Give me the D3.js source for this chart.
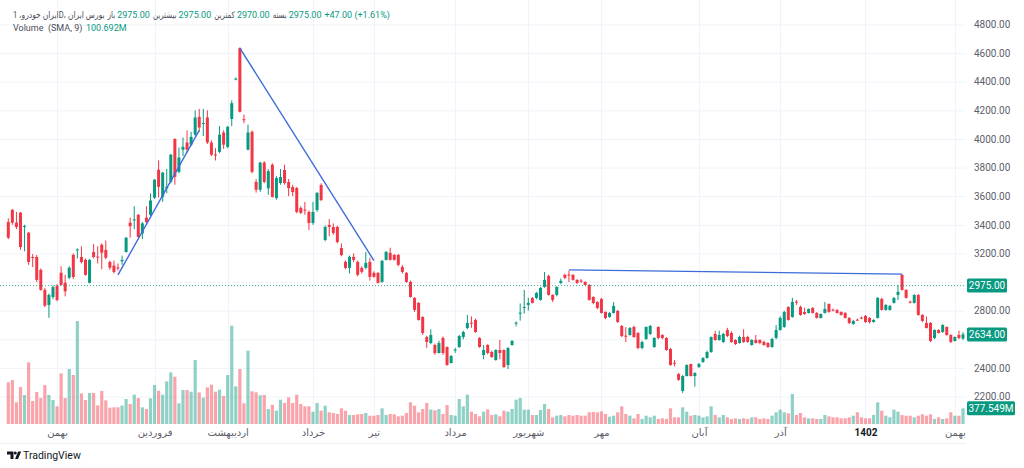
<!DOCTYPE html>
<html><head><meta charset="utf-8">
<script src="https://cdn.jsdelivr.net/npm/d3@7"></script>
<style>html,body{margin:0;padding:0;background:#fff;overflow:hidden}
svg{display:block;font-family:Roboto,"DejaVu Sans",sans-serif}</style>
</head><body><svg id="c" width="1024" height="468"></svg>
<script>
// [open, high, low, close]
const ohlc = [
[3420,3445,3300,3310],[3505,3510,3400,3415],[3415,3490,3370,3385],[3485,3490,3225,3245],[3385,3400,3215,3392],
[3345,3350,3120,3140],[3175,3195,3105,3170],[3175,3190,3000,3015],[3085,3095,2940,2945],[2945,2960,2825,2835],
[2840,2920,2750,2910],[2895,2975,2880,2965],[2975,2985,2865,2875],[3065,3110,2975,2980],[2995,3050,2900,2935],
[3030,3110,3020,3100],[3190,3200,3020,3035],[3222,3235,3165,3228],[3175,3250,3130,3140],[3155,3165,3045,3050],
[2995,3160,2990,3155],[3210,3265,3165,3175],[3178,3250,3130,3172],[3260,3270,3090,3205],[3225,3290,3160,3170],
[3140,3150,3085,3100],[3115,3150,3060,3070],[3102,3130,3080,3098],[3145,3185,3120,3155],[3210,3315,3205,3310],
[3415,3450,3310,3390],[3432,3530,3370,3438],[3470,3475,3305,3315],[3340,3420,3300,3410],[3450,3530,3400,3420],
[3470,3620,3460,3570],[3590,3720,3580,3715],[3785,3850,3590,3665],[3595,3770,3560,3765],[3655,3790,3620,3665],
[3700,3895,3690,3890],[4000,4005,3680,3735],[3770,3940,3760,3870],[3925,4010,3880,3945],[3975,4060,3905,3925],
[3960,4050,3950,4015],[4030,4200,4020,4150],[4155,4210,4050,4080],[4108,4210,4020,4112],[4150,4200,3965,3975],
[3975,3990,3880,3890],[3892,3935,3850,3888],[3910,4090,3900,4030],[4045,4060,3930,3960],[3945,4090,3935,4085],
[4140,4270,4090,4250],[4418,4430,4410,4422],[4635,4640,4185,4190],[4138,4170,4110,4132],[3925,4100,3920,4045],
[4050,4060,3760,3770],[3700,3720,3625,3645],[3645,3840,3630,3835],[3835,3845,3690,3700],[3655,3790,3610,3775],
[3820,3830,3590,3595],[3587,3740,3575,3727],[3692,3790,3680,3734],[3783,3820,3680,3692],[3699,3720,3600,3657],
[3664,3680,3600,3629],[3657,3665,3480,3490],[3518,3530,3475,3483],[3506,3560,3470,3502],[3490,3500,3364,3413],
[3413,3560,3400,3490],[3504,3630,3490,3623],[3678,3690,3565,3573],[3294,3395,3285,3385],[3399,3440,3320,3385],
[3385,3410,3330,3343],[3385,3395,3270,3280],[3238,3270,3180,3189],[3141,3150,3090,3099],[3099,3185,3060,3176],
[3176,3200,3140,3155],[3141,3150,3040,3050],[3099,3110,3060,3071],[3099,3210,3090,3134],[3141,3170,3010,3036],
[3064,3075,3030,3036],[3064,3070,2990,2994],[3001,3155,2995,3148],[3155,3215,3150,3211],[3204,3240,3150,3155],
[3190,3195,3150,3155],[3190,3195,3110,3120],[3106,3120,3060,3071],[3064,3070,2995,3001],[3001,3010,2890,2896],
[2889,2895,2790,2805],[2854,2860,2730,2735],[2756,2760,2630,2644],[2616,2625,2540,2581],[2574,2670,2565,2630],
[2560,2570,2490,2504],[2504,2590,2500,2574],[2609,2620,2490,2504],[2546,2550,2415,2420],[2434,2490,2430,2483],
[2522,2540,2505,2528],[2546,2630,2540,2623],[2616,2660,2600,2651],[2679,2770,2670,2714],[2716,2760,2680,2712],
[2735,2745,2645,2651],[2609,2615,2540,2546],[2490,2560,2460,2525],[2560,2565,2495,2504],[2511,2520,2470,2476],
[2455,2530,2450,2525],[2525,2595,2460,2504],[2525,2530,2400,2406],[2420,2545,2392,2539],[2560,2595,2555,2588],
[2712,2725,2690,2716],[2782,2850,2730,2786],[2819,2945,2780,2826],[2840,2890,2800,2854],[2889,2895,2850,2854],
[2889,2930,2880,2924],[2875,2965,2870,2959],[2966,3070,2960,3015],[3043,3050,2905,2910],[2910,2915,2860,2875],
[2910,2970,2900,2966],[2994,3025,2985,3008],[3050,3060,3020,3029],[3052,3080,3000,3048],[3050,3055,3010,3015],
[3015,3020,2985,2994],[3010,3020,2995,3006],[3001,3005,2975,2980],[2980,2985,2870,2875],[2896,2900,2845,2854],
[2861,2865,2810,2819],[2882,2890,2780,2784],[2791,2795,2740,2749],[2756,2790,2750,2784],[2784,2860,2780,2833],
[2798,2805,2715,2721],[2693,2700,2615,2623],[2625,2685,2580,2621],[2630,2685,2625,2679],[2686,2695,2610,2616],
[2644,2650,2530,2539],[2539,2590,2530,2581],[2602,2690,2595,2686],[2637,2700,2630,2693],[2546,2615,2540,2609],
[2686,2690,2600,2609],[2630,2635,2600,2609],[2609,2615,2520,2525],[2532,2540,2415,2420],[2436,2455,2410,2432],
[2357,2365,2310,2316],[2239,2350,2225,2343],[2343,2425,2340,2420],[2427,2430,2340,2343],[2343,2370,2268,2364],
[2406,2435,2400,2427],[2441,2475,2435,2469],[2469,2520,2465,2511],[2511,2620,2505,2616],[2637,2660,2590,2595],
[2595,2660,2590,2630],[2581,2645,2575,2637],[2665,2680,2615,2623],[2644,2655,2575,2581],[2595,2600,2560,2567],
[2574,2625,2570,2616],[2616,2670,2575,2581],[2616,2625,2575,2581],[2560,2600,2555,2595],[2595,2630,2570,2574],
[2595,2600,2565,2574],[2581,2590,2555,2560],[2574,2580,2540,2546],[2546,2610,2540,2602],[2610,2700,2600,2665],
[2665,2760,2660,2749],[2686,2800,2680,2791],[2826,2830,2730,2735],[2756,2890,2750,2861],[2863,2875,2840,2859],
[2826,2835,2765,2770],[2791,2820,2770,2777],[2784,2815,2780,2812],[2819,2825,2780,2784],[2784,2790,2745,2749],
[2749,2780,2745,2777],[2784,2860,2780,2812],[2847,2850,2785,2791],[2807,2815,2795,2803],[2805,2810,2780,2784],
[2791,2795,2765,2770],[2784,2790,2745,2749],[2749,2755,2705,2714],[2707,2735,2700,2728],[2737,2745,2730,2733],
[2751,2760,2740,2747],[2763,2770,2715,2721],[2749,2755,2710,2721],[2721,2740,2715,2735],[2749,2895,2745,2889],
[2882,2890,2800,2805],[2805,2845,2800,2840],[2805,2840,2800,2833],[2854,2895,2850,2889],[2910,2980,2875,2931],
[3050,3055,2940,2945],[2945,2950,2885,2889],[2863,2870,2850,2859],[2854,2915,2850,2910],[2910,2915,2765,2770],
[2770,2775,2720,2728],[2714,2760,2675,2679],[2714,2720,2580,2588],[2609,2670,2600,2665],[2665,2670,2640,2644],
[2651,2705,2645,2700],[2686,2690,2625,2630],[2630,2635,2575,2581],[2588,2620,2585,2616],[2630,2660,2600,2609],
[2605,2650,2595,2634]
];
// volume in millions
const volumes = [
1000,1056,520,888,696,1480,552,768,624,936,696,576,424,1216,624,1320,1176,2472,736,576,
744,744,448,792,568,392,400,400,440,600,480,704,624,400,360,616,936,800,704,1024,
1240,1136,496,816,816,776,1536,760,632,880,944,776,824,672,1176,2360,904,1320,496,1760,
784,760,688,696,360,460,320,584,504,640,504,704,480,424,424,296,504,320,440,280,
264,240,376,320,216,216,232,240,264,200,200,216,376,216,240,232,184,200,264,520,
440,280,360,504,350,330,360,240,456,216,200,600,424,704,296,240,184,296,352,216,
232,184,320,296,360,584,624,344,344,216,216,336,480,360,160,200,216,184,216,200,
216,200,200,280,290,280,304,240,176,200,280,424,240,200,136,240,120,200,160,200,
120,136,120,376,160,160,400,296,200,216,200,160,184,424,216,160,216,160,120,136,
120,136,120,160,160,120,136,120,200,280,344,280,256,720,216,264,160,136,136,120,
120,216,184,160,160,136,136,160,200,280,160,136,136,216,520,320,200,160,344,296,
216,200,200,160,200,232,200,232,120,160,120,136,280,200,200,377.549
];
const priceTicks = [2200,2400,2600,2800,3000,3200,3400,3600,3800,4000,4200,4400,4600,4800];
const monthLabels = ["بهمن","فروردین","اردیبهشت","خرداد","تیر","مرداد","شهریور","مهر","آبان","آذر","1402","بهمن"];
const monthIdx = [12,36,54,75,90,110,128,146,170,190,211,233];
// [startIndex, startPrice, endIndex, endPrice]
const trendLines = [[27,3050,47,4060],[57,4635,90,3150],[138,3085,220,3055]];
const lastPrice = 2975, markPrice = 2634, lastVolume = 377.549;
const headerTitle = "ایران خودرو، 1D، بورس ایران";
const headerFields = [["باز","2975.00"],["بیشترین","2975.00"],["کمترین","2970.00"],["بسته","2975.00"]];
const headerChange = "+47.00 (+1.61%)";

const UP="#089981", DN="#f23645", UPV="rgba(8,153,129,0.45)", DNV="rgba(242,54,69,0.45)";
const GREY="#4a4d57";
const svg = d3.select("#c");
const N = ohlc.length;
const PR = 966;
const x = d3.scaleLinear().domain([0,N-1]).range([8.3,963]);
const y = d3.scaleLinear().domain([2200,4800]).range([396.5,24.5]);
const yv = d3.scaleLinear().domain([0,2400]).range([424,324]);

// grid
const grid = svg.append("g");
grid.selectAll("line.h").data(priceTicks).enter().append("line")
  .attr("x1",0).attr("x2",PR).attr("y1",d=>y(d)+0.5).attr("y2",d=>y(d)+0.5)
  .attr("stroke","#f0f3fa");
grid.selectAll("line.v").data(monthIdx).enter().append("line")
  .attr("x1",d=>Math.round(x(d))+0.5).attr("x2",d=>Math.round(x(d))+0.5).attr("y1",0).attr("y2",425)
  .attr("stroke","#f0f3fa");
svg.append("line").attr("x1",0).attr("x2",PR).attr("y1",443.5).attr("y2",443.5).attr("stroke","#eef0f4");

// volume
svg.append("g").selectAll("rect").data(ohlc).enter().append("rect")
  .attr("x",(d,i)=>x(i)-1.6).attr("width",3.2)
  .attr("y",(d,i)=>yv(volumes[i])).attr("height",(d,i)=>yv(0)-yv(volumes[i]))
  .attr("fill",d=>d[3]>=d[0]?UPV:DNV);

// candles
const cg = svg.append("g");
cg.selectAll("line").data(ohlc).enter().append("line")
  .attr("x1",(d,i)=>x(i)).attr("x2",(d,i)=>x(i))
  .attr("y1",d=>y(d[1])).attr("y2",d=>y(d[2]))
  .attr("stroke",d=>d[3]>=d[0]?UP:DN).attr("stroke-width",1);
cg.selectAll("rect").data(ohlc).enter().append("rect")
  .attr("x",(d,i)=>x(i)-1.5).attr("width",3)
  .attr("y",d=>y(Math.max(d[0],d[3])))
  .attr("height",d=>Math.max(1,Math.abs(y(d[0])-y(d[3]))))
  .attr("fill",d=>d[3]>=d[0]?UP:DN);

// trend lines
svg.append("g").selectAll("line").data(trendLines).enter().append("line")
  .attr("x1",d=>x(d[0])).attr("y1",d=>y(d[1])).attr("x2",d=>x(d[2])).attr("y2",d=>y(d[3]))
  .attr("stroke","#3c6cd9").attr("stroke-width",1.4);

// last price line
svg.append("line").attr("x1",0).attr("x2",PR).attr("y1",y(lastPrice)).attr("y2",y(lastPrice))
  .attr("stroke",UP).attr("stroke-dasharray","1,2").attr("opacity",0.8);

// right axis (labels hidden behind the price tags are skipped, as in the reference)
const hidden = [lastPrice, markPrice];
const axisTicks = priceTicks.filter(t => !hidden.some(h => Math.abs(y(t)-y(h)) < 9));
const ra = svg.append("g").attr("transform",`translate(${PR},0)`)
  .call(d3.axisRight(y).tickValues(axisTicks).tickFormat(d3.format(".2f")).tickSize(0).tickPadding(8));
ra.select(".domain").remove();
ra.selectAll("text").attr("fill","#5d606b").style("font-size","10px").style("font-family","Roboto,sans-serif");

// bottom axis
const ba = svg.append("g").attr("transform","translate(0,425)")
  .call(d3.axisBottom(x).tickValues(monthIdx).tickFormat((d,i)=>monthLabels[i]).tickSize(0).tickPadding(4));
ba.select(".domain").remove();
ba.selectAll("text").style("font-size","10px")
  .style("font-family","Roboto,'DejaVu Sans',sans-serif")
  .style("font-weight",(d,i)=>monthLabels[i]==="1402"?"bold":"normal")
  .attr("fill",(d,i)=>monthLabels[i]==="1402"?"#131722":"#5d606b");

// price tags
function tag(yy, txt, w){
  const g = svg.append("g");
  g.append("rect").attr("x",967).attr("y",yy-7).attr("width",w).attr("height",14).attr("rx",1.5).attr("fill",UP);
  g.append("text").attr("x",967+w/2).attr("y",yy+3.6).attr("text-anchor","middle")
    .attr("fill","#fff").style("font-size","10px").text(txt);
}
tag(y(lastPrice), d3.format(".2f")(lastPrice), 40);
tag(y(markPrice), d3.format(".2f")(markPrice), 40);
tag(yv(lastVolume), lastVolume.toFixed(3)+"M", 48);

// header, laid out piece by piece from measured widths (Persian runs condensed horizontally)
const hg = svg.append("g").style("font-size","9px");
let cx = 13;
function put(txt, col, gap, squeeze){
  const k = squeeze || 1;
  const t = hg.append("text").attr("x",0).attr("y",0).attr("fill",col).text(txt)
    .attr("transform",`translate(${cx},18) scale(${k},1)`);
  const w = t.node().getComputedTextLength() * k;
  cx += w + gap;
}
put(headerTitle, GREY, 3, 0.84);
headerFields.forEach(f => { put(f[0], GREY, 2, 0.78); put(f[1], UP, 3); });
put(headerChange, UP, 0);
svg.append("text").attr("x",13).attr("y",31).attr("fill",GREY).style("font-size","9px")
  .attr("xml:space","preserve").text("Volume  (SMA, 9)");
svg.append("text").attr("x",86).attr("y",31).attr("fill",UP).style("font-size","9px").text("100.692M");

// logo
const lg = svg.append("g").attr("fill","#131722");
lg.append("path").attr("d","M7 451.5h6.5v7.5h-3v-4.5h-3.5z");
lg.append("circle").attr("cx",15.3).attr("cy",453).attr("r",1.5);
lg.append("path").attr("d","M15 459l3.2-7.5h3l-3.2 7.5z");
svg.append("text").attr("x",23).attr("y",459).attr("fill","#131722").style("font-size","10.5px").text("TradingView");
</script></body></html>
